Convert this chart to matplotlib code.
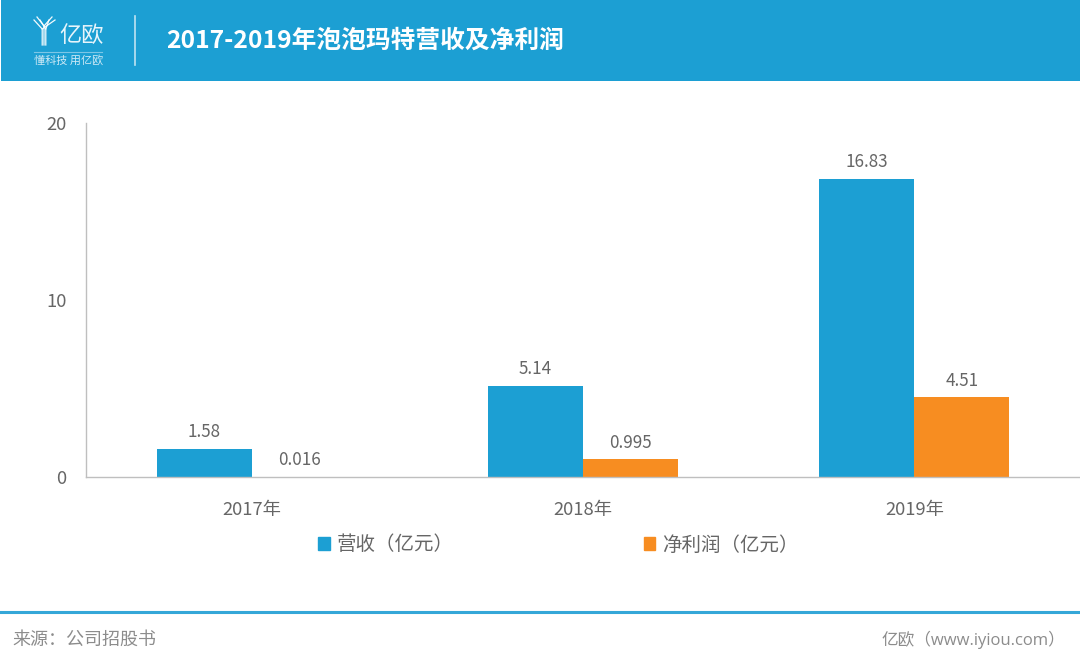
import matplotlib
matplotlib.use('Agg')
import matplotlib.pyplot as plt
from matplotlib.patches import Rectangle
from matplotlib.lines import Line2D

years = ['2017年', '2018年', '2019年']
revenue = [1.58, 5.14, 16.83]
profit = [0.016, 0.995, 4.51]
revenue_labels = ['1.58', '5.14', '16.83']
profit_labels = ['0.016', '0.995', '4.51']
yticks = [0, 10, 20]
series_names = ['营收（亿元）', '净利润（亿元）']
title = '2017-2019年泡泡玛特营收及净利润'
source = '来源：公司招股书'
credit = '亿欧（www.iyiou.com）'

BLUE = '#1C9FD3'
ORANGE = '#F78D21'
TXT = '#666666'
W, H = 1080, 664
FONT = ['Noto Sans CJK SC', 'DejaVu Sans']
plt.rcParams['font.family'] = FONT

def fx(x): return x / W
def fy(y): return 1 - y / H

fig = plt.figure(figsize=(W / 100, H / 100), dpi=100, facecolor='white')

# header band
fig.add_artist(Rectangle((fx(1), fy(81)), 1, 81 / H, transform=fig.transFigure, color=BLUE, lw=0))
fig.add_artist(Line2D([fx(135), fx(135)], [fy(16), fy(65)], color='#BFE3F2', lw=1.2))
fig.add_artist(Line2D([fx(34), fx(102)], [fy(51.5), fy(51.5)], color='#7CC6E6', lw=0.8))
# logo mark
for dx in (-3, 0, 3):
    fig.add_artist(Line2D([fx(34 + dx + 3), fx(44 + dx * 0.6), fx(44 + dx * 0.6)],
                          [fy(17 + abs(dx)), fy(26 + abs(dx)), fy(45)], color='white', lw=0.9, alpha=0.95))
    fig.add_artist(Line2D([fx(55 - dx - 3), fx(44 + dx * 0.6)],
                          [fy(17 + abs(dx)), fy(26 + abs(dx))], color='white', lw=0.9, alpha=0.95))
fig.text(fx(59), fy(35), '亿欧', color='#E8F5FB', fontsize=16, va='center', ha='left')
fig.text(fx(34), fy(60.5), '懂科技 用亿欧', color='#CFEAF6', fontsize=8, va='center', ha='left')
fig.text(fx(166), fy(41), title, color='white', fontsize=17.8, fontweight='bold', va='center', ha='left')

# chart
ax = fig.add_axes([fx(86), fy(477), fx(1080) - fx(86), 354 / H])
xs = list(range(len(years)))
bw = 95 / 331
ax.bar([x - bw / 2 for x in xs], revenue, bw, color=BLUE, label=series_names[0])
ax.bar([x + bw / 2 for x in xs], profit, bw, color=ORANGE, label=series_names[1])
ax.set_xlim(-0.5, 2.5)
ax.set_ylim(0, 20)
ax.set_yticks(yticks)
ax.set_xticks(xs, years)
ax.tick_params(length=0, labelsize=13.2, labelcolor=TXT)
ax.tick_params(axis='x', pad=17)
ax.tick_params(axis='y', pad=14)
for s in ('top', 'right'):
    ax.spines[s].set_visible(False)
for s in ('left', 'bottom'):
    ax.spines[s].set_color('#BFBFBF')
    ax.spines[s].set_linewidth(1)
for x, v, t in zip(xs, revenue, revenue_labels):
    ax.annotate(t, (x - bw / 2, v), xytext=(0, 5.5), textcoords='offset points', ha='center', va='bottom', fontsize=12.3, color=TXT)
for x, v, t in zip(xs, profit, profit_labels):
    ax.annotate(t, (x + bw / 2, v), xytext=(0, 5.5), textcoords='offset points', ha='center', va='bottom', fontsize=12.3, color=TXT)

# legend
handles = [Rectangle((0, 0), 1, 1, color=BLUE), Rectangle((0, 0), 1, 1, color=ORANGE)]
fig.legend(handles, series_names, loc='center', bbox_to_anchor=(fx(558.5), fy(545)), ncol=2, frameon=False,
           fontsize=14, labelcolor=TXT, handlelength=0.6, handleheight=0.6, handletextpad=0.35, columnspacing=9.75)

# footer
fig.add_artist(Line2D([0, 1], [fy(612), fy(612)], color='#35A7D8', lw=2.2))
fig.text(fx(12), fy(640), source, color='#8C8C8C', fontsize=13, va='center', ha='left')
fig.text(fx(1065), fy(640), credit, color='#8C8C8C', fontsize=12, va='center', ha='right',
         family=['Open Sans', 'Noto Sans CJK SC'])

fig.savefig('out.png', dpi=100, facecolor='white')
